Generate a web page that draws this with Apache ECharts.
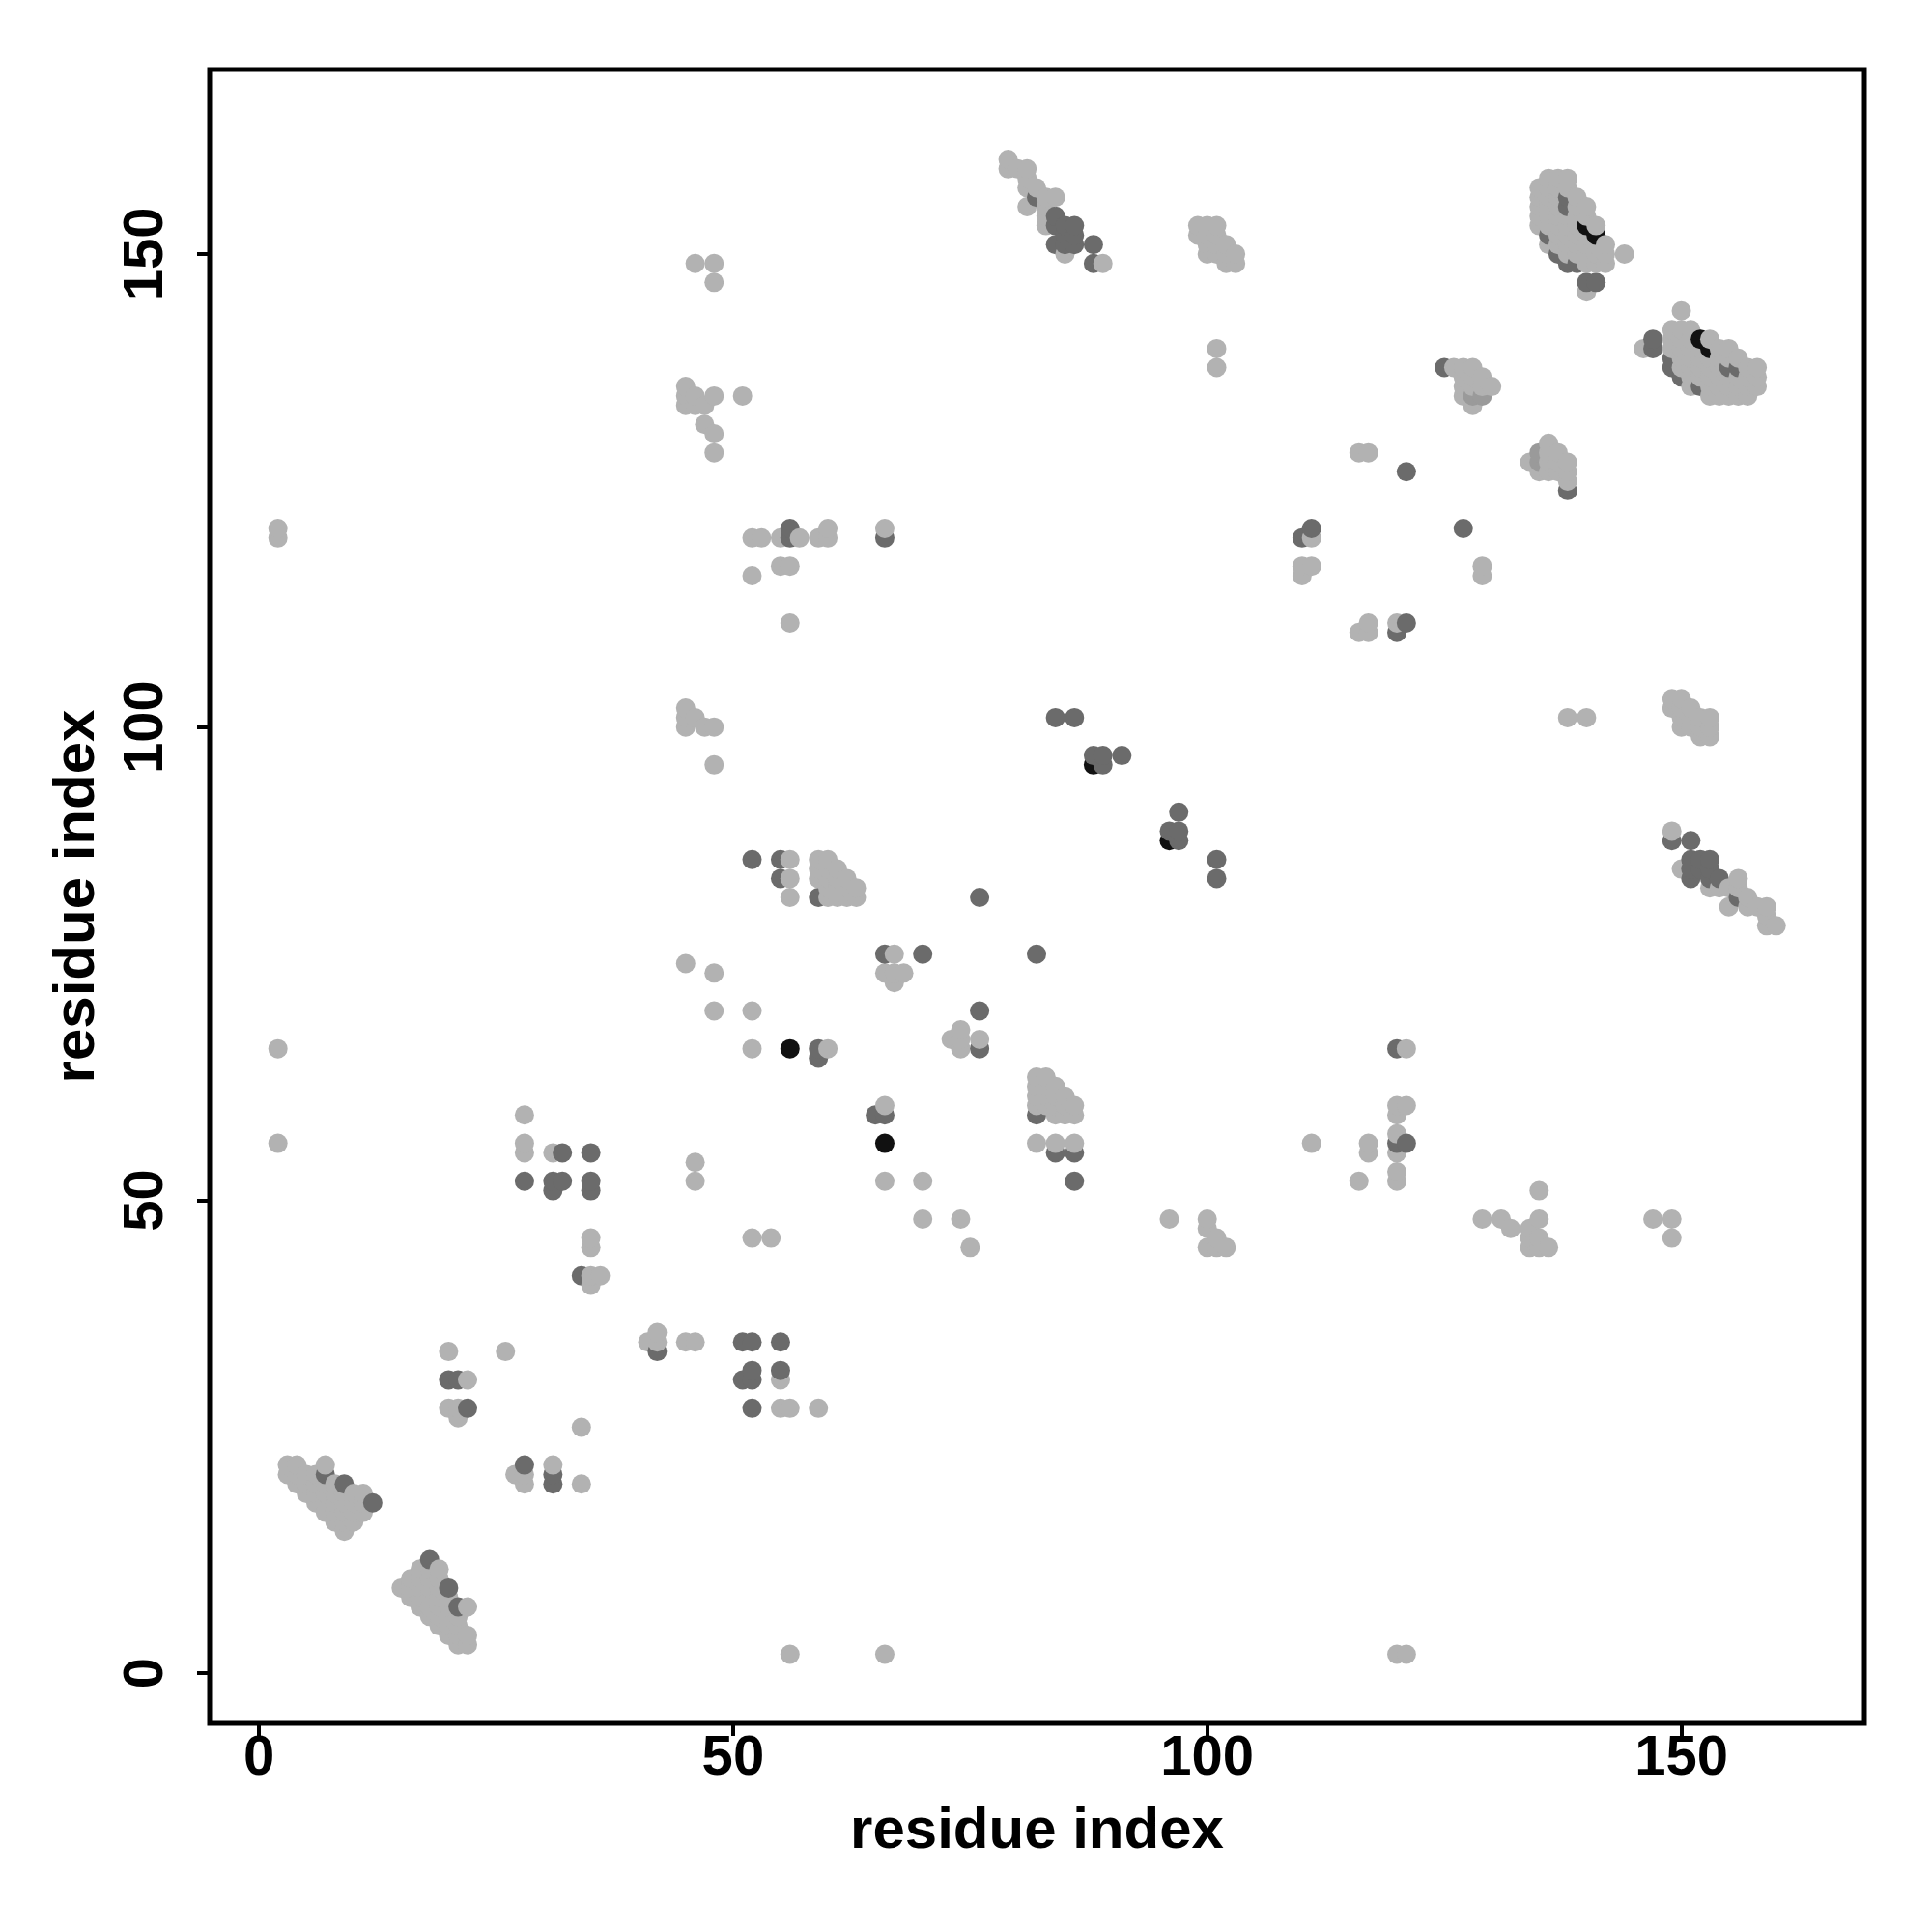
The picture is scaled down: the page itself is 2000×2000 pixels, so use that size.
<!DOCTYPE html>
<html><head><meta charset="utf-8">
<script src="https://cdn.jsdelivr.net/npm/echarts@6/dist/echarts.min.js"></script>
<style>html,body{margin:0;padding:0;background:#fff}#c{width:2000px;height:2000px}</style>
</head><body><div id="c"></div>
<script>
// Tick labels and titles
const tickValues = [0, 50, 100, 150];
const xTitle = 'residue index';
const yTitle = 'residue index';

// Contacts (i < j); each is drawn at (i, j) and mirrored at (j, i)
const lightContacts = [
  [2,121],[2,120],[2,66],[2,56],
  [3,22],[4,22],[7,22],[3,21],[4,21],[5,21],[6,21],[4,20],[5,20],[6,20],[7,20],[8,20],
  [5,19],[6,19],[7,19],[8,19],[9,19],[10,19],[11,19],[6,18],[7,18],[8,18],[9,18],[10,18],[11,18],
  [7,17],[8,17],[9,17],[10,17],[11,17],[8,16],[9,16],[10,16],[9,15],
  [20,34],[26,34],[22,31],[20,28],[21,28],[21,27],
  [28,59],[28,56],[28,55],[31,55],[35,46],[35,45],[35,42],[36,42],[35,41],[46,54],[46,52],
  [45,75],[48,74],[48,70],[52,70],[52,66],[60,66],[67,76],[66,74],[67,74],[68,74],[67,73],
  [56,86],[56,84],[56,82],
  [59,86],[60,86],[59,85],[60,85],[61,85],[59,84],[60,84],[61,84],[62,84],
  [60,83],[61,83],[62,83],[63,83],[60,82],[61,82],[62,82],[63,82],
  [45,102],[45,101],[46,101],[45,100],[47,100],[48,100],[48,96],
  [52,120],[53,120],[55,120],[57,120],[59,120],[60,121],[60,120],[66,121],[55,117],[56,117],[52,116],[56,111],
  [46,149],[48,149],[48,147],[45,136],[45,135],[46,135],[48,135],[45,134],[46,134],[47,134],[51,135],
  [47,132],[48,131],[48,129],
  [79,160],[79,159],[80,159],[81,159],[81,158],[81,157],[82,157],[83,156],[84,156],[81,155],[83,155],
  [83,154],[83,153],[85,150],[89,149],
  [99,153],[100,153],[101,153],[99,152],[100,152],[101,152],[100,151],[101,151],[102,151],
  [100,150],[101,150],[102,150],[103,150],[102,149],[103,149],
  [101,140],[101,138],
  [111,120],[110,117],[111,117],[110,116],[116,129],[117,129],
  [126,138],[127,138],[128,138],[127,137],[128,137],[129,137],[127,136],[128,136],[129,136],[130,136],
  [127,135],[128,134],
  [136,158],[137,158],[138,158],
  [135,157],[136,157],[137,157],[138,157],
  [135,156],[136,156],[137,156],[139,156],
  [135,155],[136,155],[137,155],[139,155],[140,155],
  [135,154],[136,154],[137,154],[138,154],[139,154],[140,154],
  [135,153],[136,153],[137,153],[138,153],[139,153],[141,153],
  [137,152],[138,152],[139,152],[140,152],
  [136,151],[137,151],[138,151],[139,151],[140,151],[141,151],[142,151],
  [138,150],[139,150],[140,150],[141,150],[142,150],[144,150],
  [140,149],[141,149],[142,149],
  [140,146]
];
const midContacts = [[128,135],[129,135]];
const darkContacts = [
  [7,21],[9,20],[12,18],
  [20,31],[21,31],[22,28],
  [32,55],[35,55],[28,52],[31,52],[32,52],[31,51],[35,52],[35,51],[34,42],
  [66,76],[70,76],[76,82],[59,66],[59,65],[52,86],[55,86],[55,84],[59,82],
  [84,101],[86,101],[88,97],[89,97],[91,97],[89,96],
  [56,121],[56,120],[66,120],
  [111,121],[110,120],[121,127],
  [82,156],[84,154],[84,153],[85,153],[86,153],[85,152],[86,152],[84,151],[85,151],[86,151],[88,151],[88,149],
  [125,138],
  [138,156],[138,155],[136,152],[137,150],[138,149],[139,149],[140,147],[141,147]
];
const blackContacts = [[56,66],[88,96],[140,153],[141,152]];

const levelColors = {light:'#b2b2b2', mid:'#9a9a9a', dark:'#6b6b6b', black:'#111111'};

const points = [];
function addContacts(list, color) {
  list.forEach(([i, j]) => {
    points.push({value: [i, j], itemStyle: {color, opacity: 1}});
    if (i !== j) points.push({value: [j, i], itemStyle: {color, opacity: 1}});
  });
}
addContacts(lightContacts, levelColors.light);
addContacts(midContacts, levelColors.mid);
addContacts(darkContacts, levelColors.dark);
addContacts(blackContacts, levelColors.black);
points.sort((a, b) => a.value[0] - b.value[0] || a.value[1] - b.value[1]);

const font = {fontFamily: 'Liberation Sans', fontWeight: 'bold', fontSize: 58, color: '#000'};
const titleFont = {fontFamily: 'Liberation Sans', fontWeight: 'bold', fontSize: 60, color: '#000'};

const chart = echarts.init(document.getElementById('c'), null, {renderer: 'canvas'});
chart.setOption({
  backgroundColor: '#fff',
  animation: false,
  grid: {left: 217, top: 72, width: 1713, height: 1712, show: true, borderColor: '#000', borderWidth: 5, backgroundColor: 'transparent'},
  xAxis: {
    type: 'value', min: -5.2, max: 169.3,
    name: xTitle, nameLocation: 'middle', nameGap: 82, nameTextStyle: titleFont,
    splitLine: {show: false}, axisLine: {show: false, onZero: false},
    axisTick: {show: true, customValues: tickValues, length: 13, lineStyle: {color: '#000', width: 4}},
    axisLabel: {customValues: tickValues, margin: 8, ...font}
  },
  yAxis: {
    type: 'value', min: -5.3, max: 169.5,
    name: yTitle, nameLocation: 'middle', nameGap: 107, nameRotate: 90, nameTextStyle: titleFont,
    splitLine: {show: false}, axisLine: {show: false, onZero: false},
    axisTick: {show: true, customValues: tickValues, length: 13, lineStyle: {color: '#000', width: 4}},
    axisLabel: {customValues: tickValues, margin: 36, rotate: 90, ...font}
  },
  series: [{
    type: 'scatter', symbol: 'circle', symbolSize: 20,
    itemStyle: {opacity: 1},
    data: points, silent: true
  }]
});
</script>
</body></html>
